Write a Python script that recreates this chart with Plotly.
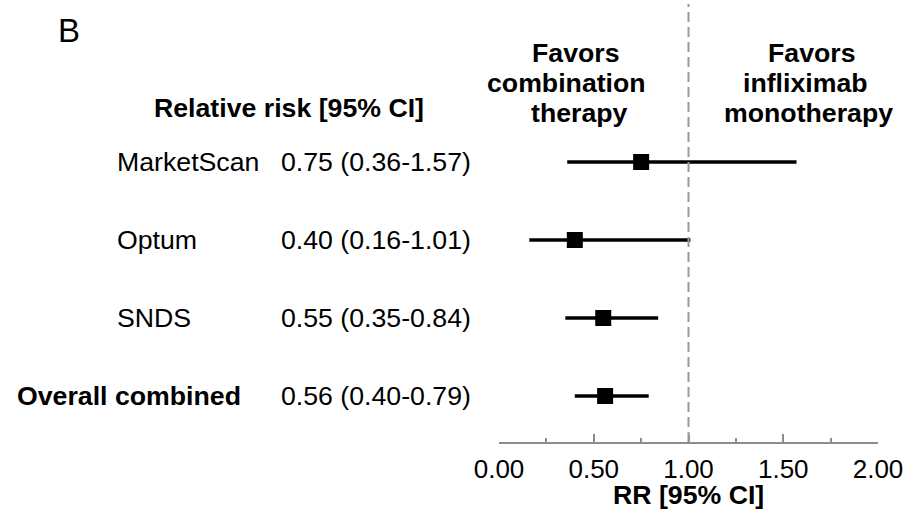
import plotly.graph_objects as go

studies = ["MarketScan", "Optum", "SNDS", "Overall combined"]
rr = [0.75, 0.40, 0.55, 0.56]
ci_low = [0.36, 0.16, 0.35, 0.40]
ci_high = [1.57, 1.01, 0.84, 0.79]
rr_text = ["0.75 (0.36-1.57)", "0.40 (0.16-1.01)", "0.55 (0.35-0.84)", "0.56 (0.40-0.79)"]
bold_rows = [False, False, False, True]
tick_vals = [0.0, 0.5, 1.0, 1.5, 2.0]
ref_value = 1.0
left_lines = ["Favors", "combination", "therapy"]
right_lines = ["Favors", "infliximab", "monotherapy"]

W, H = 908, 512
MB = 70
PH = H - MB
FONT = "Liberation Sans, Arial, sans-serif"
FS = 26.7

def py(pix):
    return (PH - pix) / PH

rows = list(range(len(studies), 0, -1))  # 4,3,2,1

fig = go.Figure()

for r, lo, hi in zip(rows, ci_low, ci_high):
    fig.add_trace(go.Scatter(x=[lo, hi], y=[r, r], mode="lines",
                             line=dict(color="black", width=3.5),
                             hoverinfo="skip", showlegend=False))

fig.add_trace(go.Scatter(x=rr, y=rows, mode="markers",
                         marker=dict(symbol="square", size=16, color="black"),
                         showlegend=False))

fig.add_shape(type="line", x0=ref_value, x1=ref_value, xref="x", yref="paper",
              y0=0, y1=py(4), line=dict(color="#999999", width=2, dash="10px,5px"))

ann = []
for r, name, txt, b in zip(rows, studies, rr_text, bold_rows):
    ann.append(dict(x=(15 if b else 115) / W, y=r, xref="paper", yref="y",
                    text=f"<b>{name}</b>" if b else name, showarrow=False,
                    xanchor="left", yanchor="middle", font=dict(size=FS)))
    ann.append(dict(x=279 / W, y=r, xref="paper", yref="y", text=txt,
                    showarrow=False, xanchor="left", yanchor="middle",
                    font=dict(size=FS)))

ann.append(dict(x=289 / W, y=py(108), xref="paper", yref="paper",
                text="<b>Relative risk [95% CI]</b>", showarrow=False,
                xanchor="center", yanchor="middle", font=dict(size=FS)))
ann.append(dict(x=69 / W, y=py(31), xref="paper", yref="paper", text="B",
                showarrow=False, xanchor="center", yanchor="middle",
                font=dict(size=33)))

left_x = [576, 566, 579]
right_x = [812, 805, 808]
for i, (a, b) in enumerate(zip(left_lines, right_lines)):
    yy = py(53 + 30 * i)
    ann.append(dict(x=left_x[i] / W, y=yy, xref="paper", yref="paper", text=f"<b>{a}</b>",
                    showarrow=False, xanchor="center", yanchor="middle", font=dict(size=FS)))
    ann.append(dict(x=right_x[i] / W, y=yy, xref="paper", yref="paper", text=f"<b>{b}</b>",
                    showarrow=False, xanchor="center", yanchor="middle", font=dict(size=FS)))

ann.append(dict(x=688 / W, y=py(495), xref="paper", yref="paper",
                text="<b>RR [95% CI]</b>", showarrow=False, xanchor="center",
                yanchor="middle", font=dict(size=FS)))

fig.update_layout(
    width=W, height=H,
    margin=dict(l=0, r=0, t=0, b=MB, autoexpand=False),
    paper_bgcolor="white", plot_bgcolor="white",
    font=dict(family=FONT, color="black", size=FS),
    annotations=ann,
    xaxis=dict(domain=[499 / W, 878 / W], range=[0, 2], tickvals=tick_vals,
               tickformat=".2f", showgrid=False, zeroline=False, automargin=False,
               showline=True, linecolor="#8c8c8c", linewidth=2,
               ticks="inside", ticklen=8, tickwidth=2, tickcolor="#8c8c8c",
               minor=dict(dtick=0.25, ticks="inside", ticklen=4, tickwidth=2,
                          tickcolor="#8c8c8c", showgrid=False),
               tickfont=dict(size=26), ticklabelstandoff=3, fixedrange=True),
    yaxis=dict(range=[(474 - PH) / 78, 474 / 78], visible=False, automargin=False,
               showgrid=False, zeroline=False, fixedrange=True),
)

fig.write_html("out.html")
